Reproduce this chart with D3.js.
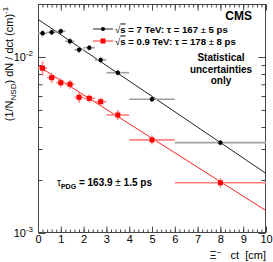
<!DOCTYPE html>
<html>
<head>
<meta charset="utf-8">
<script src="https://cdn.jsdelivr.net/npm/d3@7"></script>
<style>
html,body{margin:0;padding:0;background:#fff;}
svg{display:block;font-family:"Liberation Sans",Arial,sans-serif;}
</style>
</head>
<body>
<svg id="c" width="273" height="262"></svg>
<script>
// ---- data ----
const binLo   = [0.0, 0.4, 0.8, 1.2, 1.6, 2.0, 2.5, 3.0, 4.0, 6.0];
const binHi   = [0.4, 0.8, 1.2, 1.6, 2.0, 2.5, 3.0, 4.0, 6.0, 10.0];
const binCtr  = [0.2, 0.6, 1.0, 1.4, 1.8, 2.25, 2.75, 3.5, 5.0, 8.0];
const val7    = [0.01364, 0.01381, 0.0140, 0.01228, 0.0110, 0.01129, 0.00962, 0.00814, 0.00575, 0.00326];
const err7    = [0.0006, 0.0005, 0.0005, 0.0005, 0.0005, 0.0004, 0.0004, 0.0003, 0.0002, 0.00012];
const val09   = [0.00863, 0.00763, 0.00714, 0.00700, 0.0059, 0.00582, 0.00557, 0.00468, 0.00338, 0.00193];
const err09   = [0.0008, 0.0005, 0.0004, 0.0004, 0.0004, 0.0003, 0.0003, 0.0003, 0.0002, 0.00012];
const fit7Ct  = [0, 10];
const fit7Val = [0.01637, 0.00218];
const fit09Ct = [0, 10];
const fit09Val= [0.00889, 0.00134];
const xTicks  = [0,1,2,3,4,5,6,7,8,9,10];
const yMajor  = [0.001, 0.01];

// ---- layout ----
const L = 38, R = 266, T = 4, B = 233;
const svg = d3.select("#c");
const x = d3.scaleLinear().domain([0,10]).range([L,R]);
const y = d3.scaleLog().domain([0.001,0.02]).range([B,T]);

// frame
svg.append("rect").attr("x",L+0.5).attr("y",T+0.5).attr("width",R-L-1).attr("height",B-T-1)
  .attr("fill","none").attr("stroke","#444").attr("stroke-width",1);

// x ticks (bottom + top)
const xMinor = d3.range(0,10.001,0.2);
svg.append("g").attr("transform",`translate(0,${B-0.5})`).call(d3.axisBottom(x).tickValues(xMinor).tickSize(-3).tickFormat(""));
const gxM = svg.append("g").attr("transform",`translate(0,${B-0.5})`)
  .call(d3.axisBottom(x).tickValues(xTicks).tickSize(-6).tickPadding(3).tickFormat(d3.format("d")));
svg.append("g").attr("transform",`translate(0,${T+0.5})`).call(d3.axisTop(x).tickValues(xMinor).tickSize(-3).tickFormat(""));
svg.append("g").attr("transform",`translate(0,${T+0.5})`).call(d3.axisTop(x).tickValues(xTicks).tickSize(-6).tickFormat(""));

// y ticks (left + right)
const yMinor = [];
[0.001,0.01].forEach(d=>{for(let k=2;k<=9;k++){const v=d*k; if(v<=0.02+1e-9) yMinor.push(v);}});
svg.append("g").attr("transform",`translate(${L+0.5},0)`).call(d3.axisLeft(y).tickValues(yMinor).tickSize(-4).tickFormat(""));
svg.append("g").attr("transform",`translate(${L+0.5},0)`).call(d3.axisLeft(y).tickValues(yMajor).tickSize(-7).tickFormat(""));
svg.append("g").attr("transform",`translate(${R-0.5},0)`).call(d3.axisRight(y).tickValues(yMinor).tickSize(-4).tickFormat(""));
svg.append("g").attr("transform",`translate(${R-0.5},0)`).call(d3.axisRight(y).tickValues(yMajor).tickSize(-7).tickFormat(""));

svg.selectAll(".domain").remove();
svg.selectAll(".tick line").attr("stroke","#444");
gxM.selectAll(".tick text").attr("font-size",11).attr("fill","#000").attr("font-family","Liberation Sans, Arial, sans-serif");

// y major labels with superscript
yMajor.forEach(v=>{
  const t = svg.append("text").attr("x",33).attr("y",y(v)+4).attr("text-anchor","end")
    .attr("font-size",11).attr("fill","#000");
  t.append("tspan").text("10");
  t.append("tspan").attr("dy",-5).attr("font-size",8).text(Math.round(Math.log10(v)).toString());
});

// fit lines
function fitLine(ct, v, col){
  svg.append("line").attr("x1",x(ct[0])).attr("y1",y(v[0])).attr("x2",x(ct[1])).attr("y2",y(v[1]))
    .attr("stroke",col).attr("stroke-width",1);
}
fitLine(fit7Ct, fit7Val, "#222");
fitLine(fit09Ct, fit09Val, "#ff2020");

// data points
function series(vals, errs, col, ecol, shape){
  const g = svg.append("g");
  vals.forEach((v,i)=>{
    g.append("line").attr("x1",x(binLo[i])).attr("x2",x(binHi[i])).attr("y1",y(v)).attr("y2",y(v))
      .attr("stroke",ecol).attr("stroke-width",1.6);
    g.append("line").attr("x1",x(binCtr[i])).attr("x2",x(binCtr[i])).attr("y1",y(v-errs[i])).attr("y2",y(v+errs[i]))
      .attr("stroke",ecol).attr("stroke-width",1.6);
    if(shape==="circle"){
      g.append("circle").attr("cx",x(binCtr[i])).attr("cy",y(v)).attr("r",2.2).attr("fill",col);
    } else {
      g.append("rect").attr("x",x(binCtr[i])-2.5).attr("y",y(v)-2.5).attr("width",5).attr("height",5).attr("fill",col);
    }
  });
}
series(val7, err7, "#000", "#a0a0a0", "circle");
series(val09, err09, "#ff0000", "#ff8080", "square");

// legend
const lg = [{y:29, col:"#000", ecol:"#222", shape:"circle", e:"7", tau:"167", de:"5"},
            {y:41, col:"#ff0000", ecol:"#ff3030", shape:"square", e:"0.9", tau:"178", de:"8"}];
lg.forEach(d=>{
  svg.append("line").attr("x1",93).attr("x2",113).attr("y1",d.y).attr("y2",d.y).attr("stroke",d.ecol).attr("stroke-width",1);
  if(d.shape==="circle") svg.append("circle").attr("cx",103).attr("cy",d.y).attr("r",2).attr("fill",d.col);
  else svg.append("rect").attr("x",100.5).attr("y",d.y-2.5).attr("width",5).attr("height",5).attr("fill",d.col);
  const t = svg.append("text").attr("x",115).attr("y",d.y+3.5).attr("font-size",9.6).attr("font-weight","bold").attr("fill","#000");
  t.append("tspan").attr("font-weight","normal").text("\u221A");
  t.append("tspan").attr("text-decoration","overline").text("s");
  t.append("tspan").text(` = ${d.e} TeV: \u03C4 = ${d.tau} `);
  t.append("tspan").attr("font-weight","normal").text("\u00B1");
  t.append("tspan").text(` ${d.de} ps`);
});

// CMS
svg.append("text").attr("x",252).attr("y",20).attr("text-anchor","end").attr("font-size",12)
  .attr("font-weight","bold").attr("fill","#000").text("CMS");

// Statistical uncertainties only
["Statistical","uncertainties","only"].forEach((s,i)=>{
  svg.append("text").attr("x",221).attr("y",61+i*11.5).attr("text-anchor","middle").attr("font-size",10)
    .attr("font-weight","bold").attr("fill","#000").text(s);
});

// tau PDG
const tp = svg.append("text").attr("x",57).attr("y",186).attr("font-size",10).attr("font-weight","bold").attr("fill","#000");
tp.append("tspan").attr("font-weight","normal").text("\u03C4");
tp.append("tspan").attr("dy",3).attr("font-size",7).text("PDG");
tp.append("tspan").attr("dy",-3).text(" = 163.9 ");
tp.append("tspan").attr("font-weight","normal").text("\u00B1");
tp.append("tspan").text(" 1.5 ps");

// x title
const xt = svg.append("text").attr("x",266).attr("y",259).attr("text-anchor","end").attr("font-size",11).attr("fill","#000");
xt.append("tspan").text("\u039E");
xt.append("tspan").attr("dy",-4).attr("font-size",8).text("\u2212");
xt.append("tspan").attr("dy",4).text("\u00A0\u00A0\u00A0ct\u00A0\u00A0[cm]");

// y title
const yt = svg.append("text").attr("transform","translate(13,64) rotate(-90)").attr("text-anchor","middle")
  .attr("font-size",11).attr("fill","#000");
yt.append("tspan").text("(1/N");
yt.append("tspan").attr("dy",3).attr("font-size",8).text("NSD");
yt.append("tspan").attr("dy",-3).text(") dN / dct (cm)");
yt.append("tspan").attr("dy",-5).attr("font-size",8).text("-1");
</script>
</body>
</html>
